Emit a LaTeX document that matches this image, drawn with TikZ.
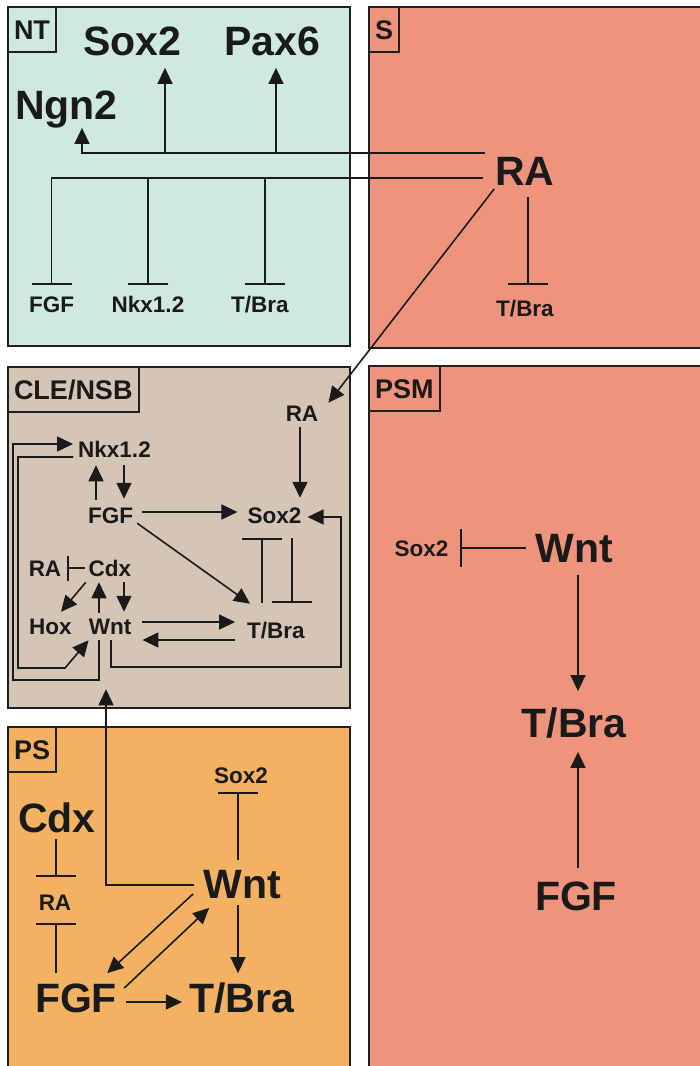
\documentclass[tikz,border=0pt]{standalone}
\usepackage{fontspec}
\setmainfont{Liberation Sans}
\usetikzlibrary{arrows.meta,calc}
\definecolor{ntfill}{HTML}{CFE8E0}
\definecolor{somfill}{HTML}{EF947C}
\definecolor{clefill}{HTML}{D4C5B7}
\definecolor{psfill}{HTML}{F2B262}
\definecolor{edge}{HTML}{231F20}
\definecolor{ink}{HTML}{1A1A1A}

\begin{document}
\begin{tikzpicture}[x=1pt, y=1pt, >={Triangle[length=16pt,width=15pt]},
  big/.style={font=\fontsize{41}{41}\selectfont\bfseries, text=ink, inner sep=0pt, text height=29.4pt, text depth=0pt},
  gene/.style={font=\fontsize{22.5}{22.5}\selectfont\bfseries, text=ink, inner sep=0pt, text height=16.1pt, text depth=0pt},
  tag/.style={draw=edge, line width=2pt, font=\fontsize{27}{27}\selectfont\bfseries, text=ink, inner xsep=6pt, inner ysep=0pt, outer sep=0pt, minimum height=45pt, text height=19.3pt, text depth=0pt, anchor=north west},
  panel/.style={draw=edge, line width=2.5pt},
  act/.style={->, draw=ink, line width=1.6pt},
  inh/.style={-{Bar[width=#1]}, draw=ink, line width=1.6pt}, inh/.default=40pt]
  \useasboundingbox (0,0) rectangle (700,-1066);

  \draw[panel, fill=ntfill] (8,-7) rectangle (350,-346);
  \draw[panel, fill=somfill] (369,-7) rectangle (712,-348);
  \draw[panel, fill=clefill] (8,-367) rectangle (350,-708);
  \draw[panel, fill=somfill] (369,-366) rectangle (712,-1080);
  \draw[panel, fill=psfill] (8,-727) rectangle (350,-1080);

  \node[tag] (ntTag) at (8,-7) {NT};
  \node[tag] (sTag) at (369,-7) {S};
  \node[tag] (cleTag) at (8,-367) {CLE/NSB};
  \node[tag] (psmTag) at (369,-366) {PSM};
  \node[tag] (psTag) at (8,-727) {PS};

  \node[big] (sox2NT) at (132,-41) {Sox2};
  \node[big] (pax6NT) at (272,-41) {Pax6};
  \node[big] (ngn2NT) at (66.5,-105) {Ngn2};
  \node[gene] (fgfNT) at (51.5,-304) {FGF};
  \node[gene] (nkxNT) at (148,-304) {Nkx1.2};
  \node[gene] (tbraNT) at (260,-304) {T/Bra};
  \node[big] (raS) at (525,-171) {RA};
  \node[gene] (tbraS) at (525,-308) {T/Bra};

  \draw[act] ([shift={(-10pt,3pt)}]raS.north west) -| ([shift={(15.5pt,-8pt)}]ngn2NT.south);
  \draw[act] ([shift={(33pt,-98pt)}]sox2NT.south) -- ([shift={(33pt,-12pt)}]sox2NT.south);
  \draw[act] ([shift={(4pt,-98pt)}]pax6NT.south) -- ([shift={(4pt,-12pt)}]pax6NT.south);
  \coordinate (raTail) at ([shift={(-12pt,8pt)}]raS.south west);
  \draw[inh] (raTail) -| ([yshift=11pt]fgfNT.north);
  \draw[inh] (nkxNT.north |- raTail) -- ([yshift=11pt]nkxNT.north);
  \draw[inh] ($(tbraNT.north |- raTail)+(5pt,0)$) -- ([shift={(5pt,11pt)}]tbraNT.north);
  \draw[inh] ([shift={(3pt,-11pt)}]raS.south) -- ([shift={(3pt,15pt)}]tbraS.north);

  \node[gene] (raC) at (302,-413) {RA};
  \node[gene] (sox2C) at (274.5,-515) {Sox2};
  \node[gene] (nkxC) at (114.5,-449) {Nkx1.2};
  \node[gene] (fgfC) at (110.5,-515) {FGF};
  \node[gene] (cdxC) at (110,-568) {Cdx};
  \node[gene] (raL) at (45,-568) {RA};
  \node[gene] (hoxC) at (50.5,-626) {Hox};
  \node[gene] (wntC) at (110,-626) {Wnt};
  \node[gene] (tbraC) at (276,-630) {T/Bra};

  \draw[act] ([shift={(-1pt,-3pt)}]raS.south west) -- ([shift={(10pt,2pt)}]raC.north east);
  \draw[act] ([shift={(-2pt,-6pt)}]raC.south) -- ([shift={(25.5pt,9pt)}]sox2C.north);
  \draw[act] ([shift={(-14.5pt,7pt)}]fgfC.north) -- ([shift={(-18.5pt,-8pt)}]nkxC.south);
  \draw[act] ([shift={(9.5pt,-8pt)}]nkxC.south) -- ([shift={(13.5pt,8pt)}]fgfC.north);
  \draw[act] ([shift={(9pt,3pt)}]fgfC.east) -- ([shift={(-10pt,3pt)}]sox2C.west);
  \draw[act] ([shift={(1pt,-6pt)}]wntC.south) -- ++(0,-27pt) -- ++(230pt,0) |- ([shift={(6pt,-2pt)}]sox2C.east);
  \draw[act] ([shift={(4pt,0pt)}]fgfC.south east) -- ([shift={(3pt,18pt)}]tbraC.north west);
  \draw[inh] ([shift={(-14pt,19pt)}]tbraC.north) -- ([shift={(-12.5pt,-15pt)}]sox2C.south);
  \draw[inh] ([shift={(17.5pt,-15pt)}]sox2C.south) -- ([shift={(16pt,19pt)}]tbraC.north);
  \draw[act] ([shift={(11pt,4pt)}]wntC.east) -- ([shift={(-12pt,8pt)}]tbraC.west);
  \draw[act] ([shift={(-12pt,-10pt)}]tbraC.west) -- ([shift={(11pt,-14pt)}]wntC.east);
  \draw[inh=25pt] ([xshift=-4pt]cdxC.west) -- ([xshift=6pt]raL.east);
  \draw[act] ([shift={(-2.75pt,-6pt)}]cdxC.south west) -- ([shift={(10.5pt,6pt)}]hoxC.north);
  \draw[act] ([shift={(-11pt,5pt)}]wntC.north) -- ([shift={(-11pt,-6pt)}]cdxC.south);
  \draw[act] ([shift={(14pt,-6pt)}]cdxC.south) -- ([shift={(14pt,6pt)}]wntC.north);
  \draw[act] ([shift={(-11pt,-6pt)}]wntC.south) -- ++(0,-40pt) -- ++(-86pt,0) |- ([shift={(-5pt,5pt)}]nkxC.west);
  \draw[act] ([shift={(-5pt,-8pt)}]nkxC.west) -- ++(-55pt,0) -- ++(0,-211pt) -- ++(47pt,0) -- ([yshift=-6pt]wntC.south west);

  \node[gene] (sox2P) at (241,-775) {Sox2};
  \node[big] (wntP) at (242,-884) {Wnt};
  \node[big] (cdxP) at (57,-818) {Cdx};
  \node[gene] (raP) at (55,-902) {RA};
  \node[big] (fgfP) at (76,-998) {FGF};
  \node[big] (tbraP) at (241.5,-998) {T/Bra};

  \draw[act] ([shift={(-9pt,-1pt)}]wntP.west) -| ([shift={(-4pt,-55pt)}]wntC.south);
  \draw[inh] ([shift={(-4pt,9pt)}]wntP.north) -- ([shift={(-3pt,-9pt)}]sox2P.south);
  \draw[inh] ([shift={(-1pt,-6pt)}]cdxP.south) -- ([shift={(1pt,17pt)}]raP.north);
  \draw[inh] ([shift={(-20pt,10pt)}]fgfP.north) -- ([shift={(1pt,-13pt)}]raP.south);
  \draw[act] ([shift={(9pt,-4pt)}]fgfP.east) -- ([shift={(-7pt,-4pt)}]tbraP.west);
  \draw[act] ([shift={(-4pt,-6pt)}]wntP.south) -- ([shift={(-3.5pt,10pt)}]tbraP.north);
  \draw[act] ([shift={(-10pt,5pt)}]wntP.south west) -- ([shift={(-10pt,10pt)}]fgfP.north east);
  \draw[act] ([shift={(7pt,-5pt)}]fgfP.north east) -- ([shift={(6pt,-9pt)}]wntP.south west);

  \node[gene] (sox2M) at (421.5,-548) {Sox2};
  \node[big] (wntM) at (574,-548) {Wnt};
  \node[big] (tbraM) at (574,-723) {T/Bra};
  \node[big] (fgfM) at (576,-896) {FGF};

  \draw[inh=38pt] ([xshift=-9pt]wntM.west) -- ([xshift=11.5pt]sox2M.east);
  \draw[act] ([shift={(4pt,-12pt)}]wntM.south) -- ([shift={(4pt,17pt)}]tbraM.north);
  \draw[act] ([shift={(2pt,13pt)}]fgfM.north) -- ([shift={(4pt,-14pt)}]tbraM.south);
\end{tikzpicture}
\end{document}
